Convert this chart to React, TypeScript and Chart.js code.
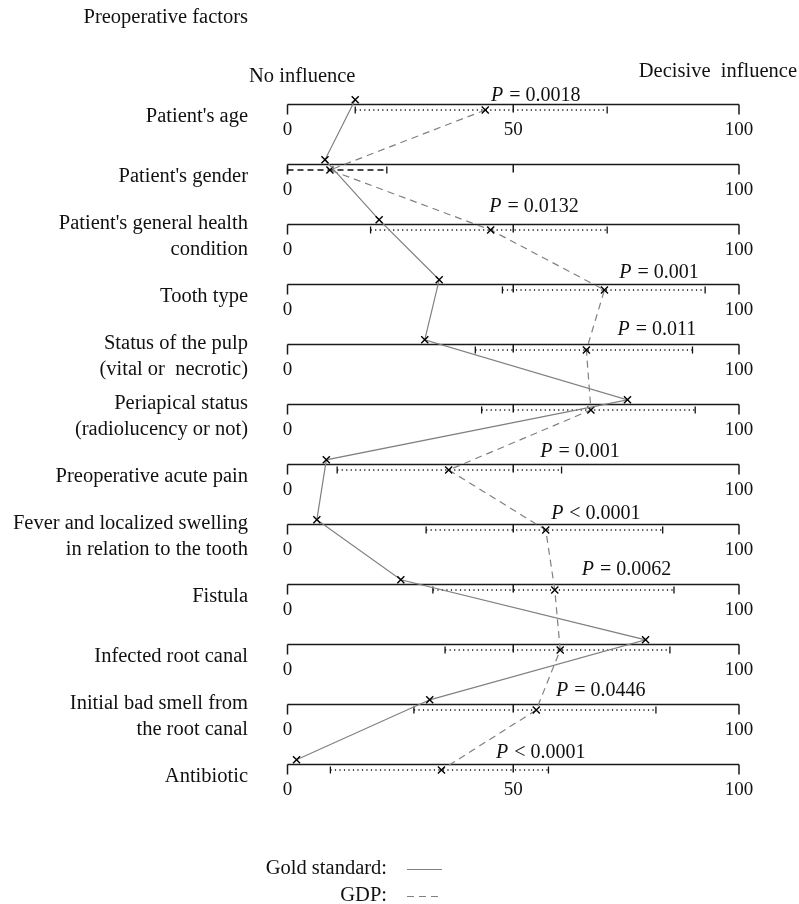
import React, { useEffect, useRef } from "react";
import { Chart, registerables } from "chart.js";

Chart.register(...registerables);

// ---- Data ----
const categories: string[][] = [
  ["Patient's age"],
  ["Patient's gender"],
  ["Patient's general health", "condition"],
  ["Tooth type"],
  ["Status of the pulp", "(vital or  necrotic)"],
  ["Periapical status", "(radiolucency or not)"],
  ["Preoperative acute pain"],
  ["Fever and localized swelling", "in relation to the tooth"],
  ["Fistula"],
  ["Infected root canal"],
  ["Initial bad smell from", "the root canal"],
  ["Antibiotic"],
];

const goldStandard = [15.0, 8.3, 20.3, 33.6, 30.4, 75.3, 8.6, 6.5, 25.1, 79.3, 31.5, 2.0];
const gdp = [43.8, 9.4, 45.0, 70.2, 66.2, 67.2, 35.7, 57.2, 59.2, 60.4, 55.1, 34.1];
const gdpLow = [15.0, 0, 18.4, 47.6, 41.6, 43.0, 11.0, 30.7, 32.2, 34.9, 28.0, 9.5];
const gdpHigh = [70.8, 22.0, 70.8, 92.5, 89.7, 90.3, 60.7, 83.1, 85.6, 84.7, 81.6, 57.8];
const pValues: (string | null)[] = [
  "= 0.0018", null, "= 0.0132", "= 0.001", "= 0.011", null,
  "= 0.001", "< 0.0001", "= 0.0062", null, "= 0.0446", "< 0.0001",
];
const axisTicks = [0, 50, 100];
const title = "Preoperative factors";
const leftHeading = "No influence";
const rightHeading = "Decisive  influence";
const legendLabels = ["Gold standard:", "GDP:"];

export default function App() {
  const ref = useRef<HTMLCanvasElement | null>(null);

  useEffect(() => {
    document.body.style.margin = "0";
    const canvas = ref.current;
    if (!canvas) return;

    const FONT = '"Liberation Serif", "DejaVu Serif", serif';
    const FS_TEXT = 20.5;
    const FS_TICK = 19;
    const FS_P = 20;
    // annotation placement (P label centre in axis units, baseline offset px)
    const pAnchorX = [55.0, 0, 54.6, 82.3, 81.8, 0, 64.8, 68.3, 75.1, 0, 69.4, 56.1];
    const pAnchorDy = [-3.5, 0, -11.6, -6, -8.7, 0, -6.7, -5, -9, 0, -8.4, -5.7];
    const dashedRangeRow = 1;
    const midLabelRows = [0, categories.length - 1];

    const overlay = {
      id: "overlay",
      beforeDatasetsDraw(chart: any) {
        const ctx = chart.ctx as CanvasRenderingContext2D;
        const xs = chart.scales.x;
        const ys = chart.scales.y;
        ctx.save();
        categories.forEach((_, i) => {
          const y = Math.round(ys.getPixelForValue(i)) + 0.5;
          const x0 = xs.getPixelForValue(0);
          const x1 = xs.getPixelForValue(100);
          ctx.strokeStyle = "#1a1a1a";
          ctx.lineWidth = 1.5;
          ctx.setLineDash([]);
          ctx.beginPath();
          ctx.moveTo(x0, y);
          ctx.lineTo(x1, y);
          axisTicks.forEach((t) => {
            const tx = xs.getPixelForValue(t);
            const len = t === 50 ? 8 : 10;
            ctx.moveTo(tx, y);
            ctx.lineTo(tx, y + len);
          });
          ctx.stroke();
          // tick labels
          ctx.fillStyle = "#111";
          ctx.font = `${FS_TICK}px ${FONT}`;
          ctx.textAlign = "center";
          ctx.textBaseline = "alphabetic";
          axisTicks.forEach((t) => {
            if (t === 50 && !midLabelRows.includes(i)) return;
            ctx.fillText(String(t), xs.getPixelForValue(t), y + 30);
          });
          // range bar
          const by = ys.getPixelForValue(i + 0.1);
          const lx = xs.getPixelForValue(gdpLow[i]);
          const hx = xs.getPixelForValue(gdpHigh[i]);
          ctx.lineWidth = 1.3;
          ctx.strokeStyle = "#111";
          if (i === dashedRangeRow) ctx.setLineDash([6, 4]);
          else ctx.setLineDash([1.2, 3.3]);
          ctx.beginPath();
          ctx.moveTo(lx, by);
          ctx.lineTo(hx, by);
          ctx.stroke();
          ctx.setLineDash([]);
          ctx.beginPath();
          ctx.moveTo(lx, by - 3.5);
          ctx.lineTo(lx, by + 3.5);
          ctx.moveTo(hx, by - 3.5);
          ctx.lineTo(hx, by + 3.5);
          ctx.stroke();
        });
        ctx.restore();
      },
      afterDraw(chart: any) {
        const ctx = chart.ctx as CanvasRenderingContext2D;
        const xs = chart.scales.x;
        const ys = chart.scales.y;
        ctx.save();
        ctx.fillStyle = "#111";
        ctx.font = `${FS_TEXT}px ${FONT}`;
        ctx.textBaseline = "alphabetic";
        // title
        ctx.textAlign = "right";
        ctx.fillText(title, 248, 23);
        // headings
        ctx.textAlign = "left";
        ctx.fillText(leftHeading, 249, 82);
        ctx.textAlign = "right";
        ctx.fillText(rightHeading, 797, 77);
        // row labels
        categories.forEach((lines, i) => {
          const y = ys.getPixelForValue(i);
          ctx.textAlign = "right";
          ctx.font = `${FS_TEXT}px ${FONT}`;
          if (lines.length === 1) {
            ctx.fillText(lines[0], 248, y + 17.5);
          } else {
            ctx.fillText(lines[0], 248, y + 5);
            ctx.fillText(lines[1], 248, y + 30.5);
          }
          const pv = pValues[i];
          if (pv) {
            ctx.font = `italic ${FS_P}px ${FONT}`;
            const wP = ctx.measureText("P").width;
            ctx.font = `${FS_P}px ${FONT}`;
            const rest = " " + pv;
            const wR = ctx.measureText(rest).width;
            const cx = xs.getPixelForValue(pAnchorX[i]);
            const start = cx - (wP + wR + 1) / 2;
            const by = y + pAnchorDy[i];
            ctx.textAlign = "left";
            ctx.font = `italic ${FS_P}px ${FONT}`;
            ctx.fillText("P", start, by);
            ctx.font = `${FS_P}px ${FONT}`;
            ctx.fillText(rest, start + wP + 1, by);
          }
        });
        // legend
        ctx.font = `${FS_TEXT}px ${FONT}`;
        ctx.textAlign = "right";
        ctx.fillText(legendLabels[0], 387, 874);
        ctx.fillText(legendLabels[1], 387, 900.5);
        ctx.strokeStyle = "#808080";
        ctx.lineWidth = 1.2;
        ctx.beginPath();
        ctx.moveTo(407, 869.5);
        ctx.lineTo(442, 869.5);
        ctx.stroke();
        ctx.setLineDash([7, 5]);
        ctx.beginPath();
        ctx.moveTo(407, 896.5);
        ctx.lineTo(442, 896.5);
        ctx.stroke();
        ctx.restore();
      },
    };

    const chart = new Chart(canvas, {
      type: "scatter",
      data: {
        datasets: [
          {
            label: "Gold standard",
            data: goldStandard.map((v, i) => ({ x: v, y: i - 0.07 })),
            showLine: true,
            borderColor: "#808080",
            borderWidth: 1.2,
            pointStyle: "crossRot",
            pointRadius: 5,
            pointBorderColor: "#000",
            pointBorderWidth: 1.4,
            pointBackgroundColor: "transparent",
            clip: false,
          } as any,
          {
            label: "GDP",
            data: gdp.map((v, i) => ({ x: v, y: i + 0.1 })),
            showLine: true,
            borderColor: "#808080",
            borderWidth: 1.2,
            borderDash: [7, 5],
            pointStyle: "crossRot",
            pointRadius: 5,
            pointBorderColor: "#000",
            pointBorderWidth: 1.4,
            pointBackgroundColor: "transparent",
            clip: false,
          } as any,
        ],
      },
      options: {
        responsive: false,
        animation: false,
        layout: { padding: { left: 287.5, right: 60, top: 14, bottom: 50 } },
        scales: {
          x: { type: "linear", min: 0, max: 100, display: false },
          y: { type: "linear", min: -1.5, max: 12.5, reverse: true, display: false },
        },
        plugins: { legend: { display: false }, tooltip: { enabled: false } },
      },
      plugins: [overlay],
    });
    return () => chart.destroy();
  }, []);

  return (
    <div style={{ width: 799, height: 904, background: "#fff" }}>
      <canvas ref={ref} width={799} height={904} style={{ display: "block" }} />
    </div>
  );
}
